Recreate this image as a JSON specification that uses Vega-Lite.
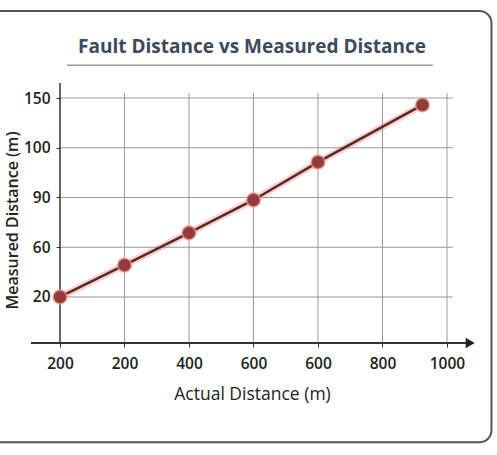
{
  "$schema": "https://vega.github.io/schema/vega-lite/v6.json",
  "width": 480,
  "height": 433,
  "autosize": "none",
  "padding": {"left": 12, "top": 10, "right": 5, "bottom": 12},
  "background": "white",
  "view": {"stroke": null},
  "data": {"values": [{}]},
  "title": {
    "text": "Fault Distance vs Measured Distance",
    "anchor": "middle",
    "frame": "group",
    "offset": -62,
    "baseline": "alphabetic",
    "font": "Open Sans",
    "fontSize": 19,
    "fontWeight": 700,
    "color": "#3b4a5c"
  },
  "datasets": {
    "series": [
      {"actual": 0, "measured": 0},
      {"actual": 1, "measured": 0.64},
      {"actual": 2, "measured": 1.29},
      {"actual": 3, "measured": 1.95},
      {"actual": 4, "measured": 2.71},
      {"actual": 5.62, "measured": 3.86}
    ],
    "vgrid": [{"pos": 1}, {"pos": 2}, {"pos": 3}, {"pos": 4}, {"pos": 5}, {"pos": 6}],
    "hgrid": [{"pos": 0}, {"pos": 1}, {"pos": 2}, {"pos": 3}, {"pos": 4}]
  },
  "layer": [
    {
      "data": {"name": "series"},
      "mark": {"type": "line", "stroke": "#ef9a9a", "strokeWidth": 7, "opacity": 0.45},
      "encoding": {
        "x": {
          "field": "actual", "type": "quantitative",
          "scale": {"domain": [-0.744, 6.698], "nice": false, "zero": false},
          "axis": {
            "values": [0, 1, 2, 3, 4, 5, 6],
            "labelExpr": "['200','200','400','600','600','800','1000'][datum.value]",
            "offset": -100,
            "domain": false,
            "grid": false,
            "ticks": true,
            "tickSize": 4,
            "tickColor": "#333",
            "labelPadding": 9,
            "labelFont": "Open Sans",
            "labelFontSize": 15.5,
            "labelFontWeight": 600,
            "labelColor": "#222",
            "title": "Actual Distance (m)",
            "titleFont": "Open Sans",
            "titleFontSize": 17.5,
            "titleFontWeight": 400,
            "titleColor": "#222",
            "titlePadding": 14
          }
        },
        "y": {
          "field": "measured", "type": "quantitative",
          "scale": {"domain": [-2.935, 5.769], "nice": false, "zero": false},
          "axis": {
            "values": [0, 1, 2, 3, 4],
            "labelExpr": "['20','60','90','100','150'][datum.value]",
            "offset": -48,
            "domain": false,
            "grid": false,
            "tickSize": 4,
            "tickColor": "#333",
            "labelPadding": 6,
            "labelFont": "Open Sans",
            "labelFontSize": 15.5,
            "labelFontWeight": 600,
            "labelColor": "#222",
            "title": "Measured Distance (m)",
            "titleFont": "Open Sans",
            "titleFontSize": 16,
            "titleFontWeight": 600,
            "titleColor": "#222",
            "titleAngle": -90,
            "titleBaseline": "bottom",
            "titleAlign": "center",
            "titleX": -40,
            "titleY": 210
          }
        }
      }
    },
    {
      "mark": {"type": "rect", "fill": null, "stroke": "#555", "strokeWidth": 2, "cornerRadius": 12},
      "encoding": {
        "x": {"datum": -1.12, "type": "quantitative"},
        "x2": {"datum": 6.69},
        "y": {"datum": -2.92, "type": "quantitative"},
        "y2": {"datum": 5.75}
      }
    },
    {
      "mark": {"type": "rule", "stroke": "#999", "strokeWidth": 1.5},
      "encoding": {
        "x": {"datum": 0.11, "type": "quantitative"},
        "x2": {"datum": 5.78},
        "y": {"datum": 4.66, "type": "quantitative"}
      }
    },
    {
      "data": {"name": "hgrid"},
      "mark": {"type": "rule", "stroke": "#999", "strokeWidth": 1},
      "encoding": {
        "y": {"field": "pos", "type": "quantitative"},
        "x": {"datum": 0, "type": "quantitative"},
        "x2": {"datum": 6.09}
      }
    },
    {
      "data": {"name": "vgrid"},
      "mark": {"type": "rule", "stroke": "#999", "strokeWidth": 1},
      "encoding": {
        "x": {"field": "pos", "type": "quantitative"},
        "y": {"datum": -0.925, "type": "quantitative"},
        "y2": {"datum": 4.1}
      }
    },
    {
      "mark": {"type": "rule", "stroke": "#333", "strokeWidth": 1.5},
      "encoding": {
        "x": {"datum": 0, "type": "quantitative"},
        "y": {"datum": -0.925, "type": "quantitative"},
        "y2": {"datum": 4.3}
      }
    },
    {
      "mark": {"type": "rule", "stroke": "#333", "strokeWidth": 2},
      "encoding": {
        "x": {"datum": -0.45, "type": "quantitative"},
        "x2": {"datum": 6.3},
        "y": {"datum": -0.925, "type": "quantitative"}
      }
    },
    {
      "mark": {"type": "point", "shape": "triangle-right", "filled": true, "fill": "#222", "size": 110, "opacity": 1},
      "encoding": {
        "x": {"datum": 6.36, "type": "quantitative"},
        "y": {"datum": -0.925, "type": "quantitative"}
      }
    },
    {
      "data": {"name": "series"},
      "mark": {"type": "line", "stroke": "#5a2824", "strokeWidth": 2.5},
      "encoding": {
        "x": {"field": "actual", "type": "quantitative"},
        "y": {"field": "measured", "type": "quantitative"}
      }
    },
    {
      "data": {"name": "series"},
      "mark": {"type": "point", "filled": true, "fill": "#933a3a", "stroke": "#f2a0a0", "strokeWidth": 2, "strokeOpacity": 0.6, "size": 190, "opacity": 1},
      "encoding": {
        "x": {"field": "actual", "type": "quantitative"},
        "y": {"field": "measured", "type": "quantitative"}
      }
    }
  ]
}
